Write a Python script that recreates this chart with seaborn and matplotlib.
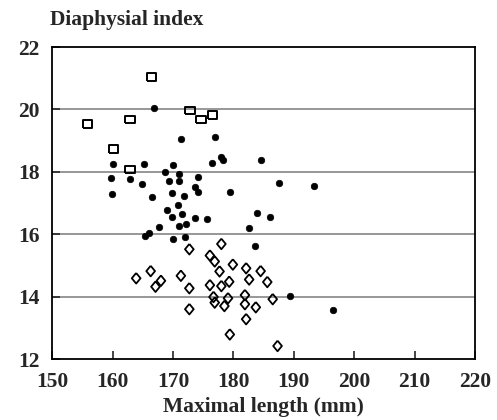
import pandas as pd
import numpy as np
import matplotlib
matplotlib.use("Agg")
import matplotlib.pyplot as plt
import seaborn as sns

# filled dots
dot_len = [166.9, 171.4, 177.0, 160.1, 165.2, 170.0, 176.5, 178.0, 178.3, 184.5,
           168.7, 171.0, 174.1, 159.7, 162.9, 169.4, 171.0, 164.9, 173.7, 174.1,
           179.4, 187.6, 193.4, 159.9, 166.5, 169.8, 171.8, 170.9, 169.0, 171.5,
           169.8, 173.6, 175.7, 183.9, 186.1, 167.6, 172.2, 171.0, 182.6, 165.4,
           166.1, 170.0, 172.0, 183.5, 189.3, 196.4]
dot_idx = [20.05, 19.05, 19.12, 18.25, 18.25, 18.22, 18.29, 18.48, 18.38, 18.38,
           17.98, 17.93, 17.82, 17.81, 17.76, 17.72, 17.72, 17.60, 17.53, 17.34,
           17.34, 17.63, 17.54, 17.29, 17.18, 17.31, 17.22, 16.95, 16.77, 16.64,
           16.55, 16.53, 16.50, 16.69, 16.55, 16.23, 16.34, 16.25, 16.19, 15.94,
           16.03, 15.85, 15.90, 15.61, 14.02, 13.57]

# open squares
sq_len = [166.4, 172.8, 174.6, 176.5, 155.8, 162.9, 160.1, 162.9]
sq_idx = [21.04, 19.96, 19.69, 19.82, 19.53, 19.69, 18.73, 18.08]

# open diamonds
dm_len = [172.7, 178.0, 176.1, 176.9, 177.7, 179.9, 182.1, 184.5, 182.6, 185.6,
          163.9, 166.3, 167.1, 168.0, 171.3, 172.7, 176.1, 178.0, 179.3, 176.7,
          176.9, 178.5, 179.1, 181.9, 181.9, 183.7, 186.5, 172.7, 182.1, 179.4,
          187.3]
dm_idx = [15.52, 15.69, 15.32, 15.13, 14.81, 15.03, 14.91, 14.82, 14.55, 14.47,
          14.59, 14.82, 14.32, 14.51, 14.67, 14.27, 14.37, 14.34, 14.48, 13.99,
          13.81, 13.70, 13.95, 14.05, 13.76, 13.66, 13.92, 13.60, 13.28, 12.79,
          12.42]

x_ticks = [150, 160, 170, 180, 190, 200, 210, 220]
y_ticks = [12, 14, 16, 18, 20, 22]

sns.set_style("white")
plt.rcParams['font.family'] = ['Liberation Serif', 'DejaVu Serif']
plt.rcParams['font.weight'] = 'bold'

fig = plt.figure(figsize=(4.97, 4.2), dpi=100)
ax = fig.add_axes([0.105, 0.145, 0.851, 0.743])

for g in [14, 16, 18, 20]:
    ax.axhline(g, color="#7a7a7a", lw=1.1, zorder=0)

rect = [(-1.3, -1), (1.3, -1), (1.3, 1), (-1.3, 1), (-1.3, -1)]
diam = [(0, 1.15), (0.95, 0), (0, -1.15), (-0.95, 0), (0, 1.15)]

sns.scatterplot(x=dot_len, y=dot_idx, ax=ax, color="black", s=22,
                edgecolor="black", linewidth=0.5, zorder=3)
sns.scatterplot(x=sq_len, y=sq_idx, ax=ax, marker=rect, s=46,
                facecolor="none", edgecolor="black", linewidth=1.4, zorder=3)
sns.scatterplot(x=dm_len, y=dm_idx, ax=ax, marker=diam, s=58,
                facecolor="none", edgecolor="black", linewidth=1.3, zorder=3)

ax.set_xlim(150, 220)
ax.set_ylim(12, 22)
ax.set_xticks(x_ticks)
ax.set_yticks(y_ticks)
ax.tick_params(direction="in", length=6, width=1.2, labelsize=15.5, pad=9,
               bottom=True, left=True)
for s in ax.spines.values():
    s.set_color("black")
    s.set_linewidth(1.3)

ax.set_xlabel("Maximal length (mm)", fontsize=15.5, fontweight="bold", labelpad=4)
ax.set_ylabel("")
fig.text(0.10, 0.952, "Diaphysial index", fontsize=15.5, fontweight="bold",
         ha="left", va="center")

fig.savefig("out.png", dpi=100)
